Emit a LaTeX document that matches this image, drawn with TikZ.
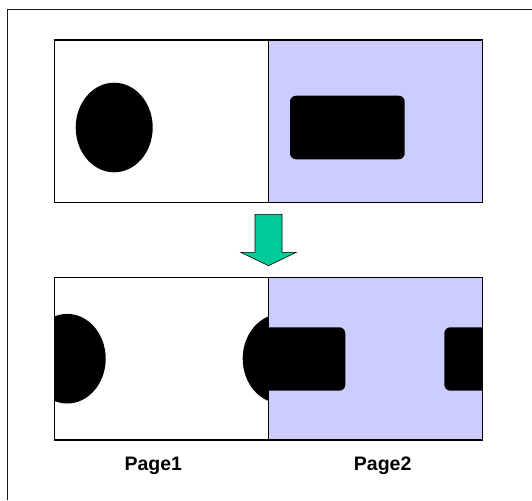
\documentclass[tikz,border=0pt]{standalone}
\usepackage{fontspec}
\setmainfont{Liberation Sans}
\definecolor{pagetwo}{HTML}{CCCCFF}
\definecolor{arrowgreen}{HTML}{00CC99}

\begin{document}
\begin{tikzpicture}[x=1pt,y=-1pt,
  frame/.style={draw=black, line width=1.3pt},
  blob/.style={fill=black},
  tag/.style={font=\fontsize{19.5}{22}\selectfont\bfseries, anchor=base}]
\useasboundingbox (0,0) rectangle (532,500);
\draw[black!90, line width=1.1pt] (7.5,500) -- (7.5,9.5) -- (532,9.5);
% before
\begin{scope}
\fill[pagetwo] (268.5,40) rectangle (482.7,202.3);
\fill[blob] (114.2,127.5) ellipse (38.5 and 44.8);
\fill[blob, rounded corners=6] (290,95.7) rectangle (404.7,159.3);
\draw[frame] (54.3,40) rectangle (482.7,202.3);
\draw[frame] (268.5,40) -- (268.5,202.3);
\end{scope}
% arrow
\draw[fill=arrowgreen, line width=0.6pt] (255,214.3) -- (282,214.3) -- (282,252.3) -- (296.3,252.3)
  -- (268.5,265.7) -- (240.7,252.3) -- (255,252.3) -- cycle;
% after
\begin{scope}
\clip (54.3,277.7) rectangle (482.7,440);
\foreach \cx in {67.2,281.2}
  \fill[blob] (\cx,358.7) ellipse (38.5 and 44.8);
\fill[pagetwo] (268.5,277.7) rectangle (482.7,440);
\begin{scope}
\clip (268.5,277.7) rectangle (482.7,440);
\foreach \lx in {230.6,444.3}
  \fill[blob, rounded corners=6] (\lx,327.3) rectangle +(114.7,63.4);
\end{scope}
\end{scope}
\draw[frame] (54.3,277.7) rectangle (482.7,440);
\draw[frame] (268.5,277.7) -- (268.5,440);
\node[tag] (page1) at (153.3,470.7) {Page1};
\node[tag] (page2) at (382.7,470.7) {Page2};
\end{tikzpicture}
\end{document}
